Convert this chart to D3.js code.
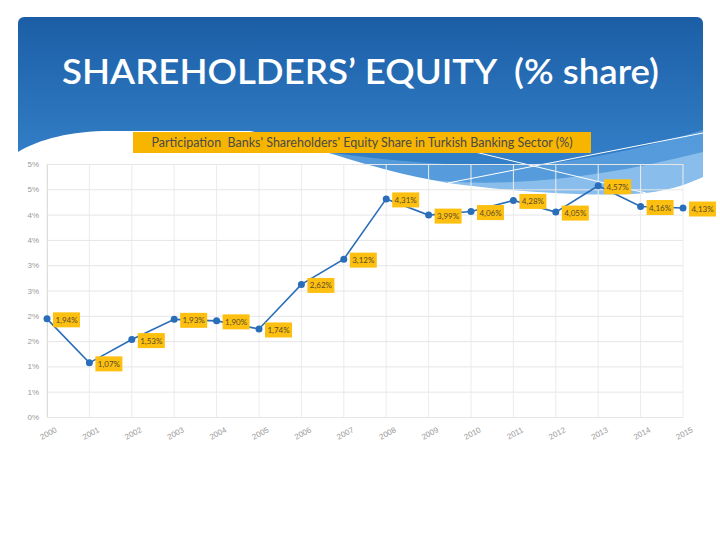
<!DOCTYPE html>
<html>
<head>
<meta charset="utf-8">
<script src="https://cdn.jsdelivr.net/npm/d3@7"></script>
<style>
  body { margin: 0; background: #fff; }
  svg { display: block; font-family: Lato, "Open Sans", sans-serif; }
</style>
</head>
<body>
<div id="chart"></div>
<script>
// Chart data
var years = ["2000","2001","2002","2003","2004","2005","2006","2007","2008","2009","2010","2011","2012","2013","2014","2015"];
var equityShare = [1.94, 1.07, 1.53, 1.93, 1.90, 1.74, 2.62, 3.12, 4.31, 3.99, 4.06, 4.28, 4.05, 4.57, 4.16, 4.13];
var yTicks = [0, 0.5, 1, 1.5, 2, 2.5, 3, 3.5, 4, 4.5, 5];
var yTickLabels = ["0%","1%","1%","2%","2%","3%","3%","4%","4%","5%","5%"];

var svgWidth = 720;
var svgHeight = 540;

var svg = d3.select("#chart")
  .append("svg")
  .attr("width", svgWidth)
  .attr("height", svgHeight);

// Header background
var defs = svg.append("defs");
var grad = defs.append("linearGradient")
  .attr("id", "headGrad")
  .attr("x1", 0).attr("y1", 0).attr("x2", 0).attr("y2", 1);
grad.append("stop").attr("offset", "0%").attr("stop-color", "#1b5ea6");
grad.append("stop").attr("offset", "100%").attr("stop-color", "#3b8ad2");

svg.append("rect")
  .attr("x", 18).attr("y", 17)
  .attr("width", 685).attr("height", 190)
  .attr("rx", 6)
  .attr("fill", "url(#headGrad)");

// swoosh layers
svg.append("path")
  .attr("d", "M300,148 C390,162 480,170 560,162 C620,154 670,140 703,130 L703,205 L300,205 Z")
  .attr("fill", "#5fa2e0")
  .attr("opacity", 0.8);
svg.append("path")
  .attr("d", "M430,180 C510,188 600,178 703,152 L703,205 L430,205 Z")
  .attr("fill", "#92c4ee")
  .attr("opacity", 0.85);

// white wave covering the lower part
svg.append("path")
  .attr("d", "M18,152 C40,139 70,131 111,131 L250,131 C300,140 360,168 448,183 C520,193 600,197 646,193 C672,190 690,183 703,177 L703,230 L18,230 Z")
  .attr("fill", "#fff");

// thin decorative lines
svg.append("line")
  .attr("x1", 448).attr("y1", 183).attr("x2", 703).attr("y2", 133)
  .attr("stroke", "#fff").attr("stroke-width", 1);
svg.append("line")
  .attr("x1", 475).attr("y1", 152).attr("x2", 646).attr("y2", 193)
  .attr("stroke", "#fff").attr("stroke-width", 1);

// Slide title
svg.append("text")
  .attr("x", 62)
  .attr("y", 84)
  .attr("fill", "#fff")
  .attr("textLength", 597)
  .attr("lengthAdjust", "spacingAndGlyphs")
  .style("font-size", "34px")
  .style("font-weight", "600")
  .style("white-space", "pre")
  .text("SHAREHOLDERS\u2019 EQUITY  (% share)");

// Chart title box
svg.append("rect")
  .attr("x", 133).attr("y", 132)
  .attr("width", 458).attr("height", 21)
  .attr("fill", "#f7b500");
svg.append("text")
  .attr("x", 362)
  .attr("y", 147)
  .attr("text-anchor", "middle")
  .attr("fill", "#4a4a4a")
  .style("font-size", "12.5px")
  .style("white-space", "pre")
  .text("Participation  Banks' Shareholders' Equity Share in Turkish Banking Sector (%)");

// Scales
var xScale = d3.scalePoint()
  .domain(years)
  .range([47, 683]);

var yScale = d3.scaleLinear()
  .domain([0, 5])
  .range([417, 164]);

var chartGroup = svg.append("g");

// Vertical grid
chartGroup.append("g")
  .selectAll("line")
  .data(years)
  .enter()
  .append("line")
  .attr("x1", d => xScale(d))
  .attr("x2", d => xScale(d))
  .attr("y1", 164)
  .attr("y2", 417)
  .attr("stroke", "#ececec");

// Y axis with horizontal grid
var leftAxis = d3.axisLeft(yScale)
  .tickValues(yTicks)
  .tickSize(-(683 - 47))
  .tickPadding(8)
  .tickFormat((d, i) => yTickLabels[i]);

var yAxis = chartGroup.append("g")
  .attr("transform", "translate(47,0)")
  .call(leftAxis);
yAxis.select(".domain").attr("stroke", "#dcdcdc");
yAxis.selectAll(".tick line").attr("stroke", "#e6e6e6");
yAxis.selectAll(".tick text")
  .attr("fill", "#9a9a9a")
  .style("font-size", "8px");

// X axis
var bottomAxis = d3.axisBottom(xScale).tickSize(0).tickPadding(8);
var xAxis = chartGroup.append("g")
  .attr("transform", "translate(0,417)")
  .call(bottomAxis);
xAxis.select(".domain").remove();
xAxis.selectAll(".tick text")
  .attr("fill", "#9a9a9a")
  .style("font-size", "8px")
  .attr("text-anchor", "end")
  .attr("dx", "2")
  .attr("dy", "1.2em")
  .attr("transform", "rotate(-28)");

// Line
var line = d3.line()
  .x((d, i) => xScale(years[i]))
  .y(d => yScale(d));

chartGroup.append("path")
  .datum(equityShare)
  .attr("d", line)
  .attr("fill", "none")
  .attr("stroke", "#2a6db8")
  .attr("stroke-width", 1.6);

chartGroup.selectAll("circle")
  .data(equityShare)
  .enter()
  .append("circle")
  .attr("cx", (d, i) => xScale(years[i]))
  .attr("cy", d => yScale(d))
  .attr("r", 3.5)
  .attr("fill", "#2a6db8");

// Data labels
var labelGroup = chartGroup.selectAll(".dataLabel")
  .data(equityShare)
  .enter()
  .append("g")
  .attr("class", "dataLabel")
  .attr("transform", (d, i) => `translate(${xScale(years[i]) + 6}, ${yScale(d) + 1})`);

labelGroup.append("rect")
  .attr("x", 0)
  .attr("y", -7.5)
  .attr("width", 27)
  .attr("height", 15)
  .attr("fill", "#fdc010");

labelGroup.append("text")
  .attr("x", 13.5)
  .attr("y", 3)
  .attr("text-anchor", "middle")
  .attr("fill", "#5a4a2a")
  .style("font-size", "8px")
  .text(d => d.toFixed(2).replace(".", ",") + "%");
</script>
</body>
</html>
